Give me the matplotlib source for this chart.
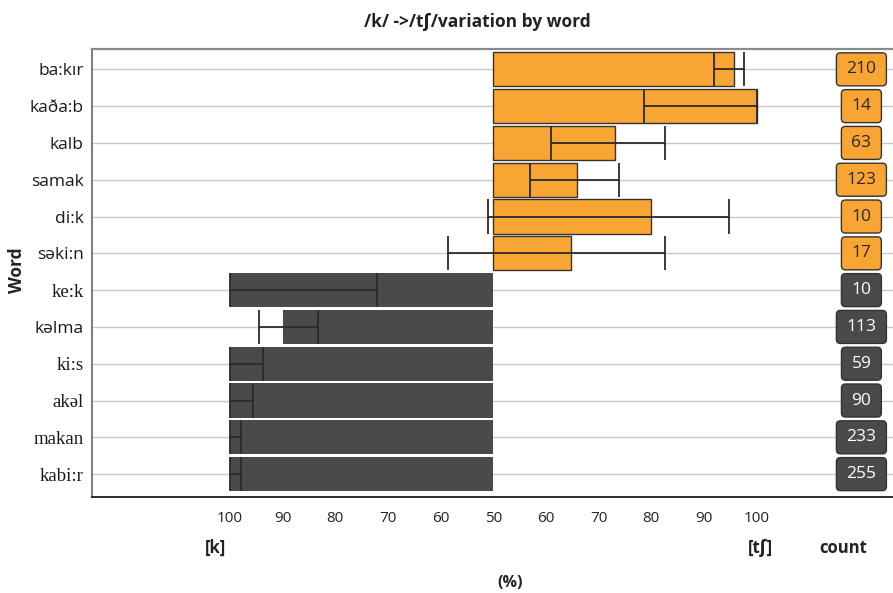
import matplotlib
matplotlib.use("Agg")
import matplotlib.pyplot as plt
from matplotlib.patches import FancyBboxPatch
from matplotlib.transforms import IdentityTransform

# Words, top to bottom
words = ["ba:kır", "kaða:b", "kalb", "samak", "di:k", "səki:n",
         "ke:k", "kəlma", "ki:s", "akəl", "makan", "kabi:r"]
# Font style used for each word label
word_serif = [False, False, False, False, False, False,
              True, False, True, True, True, True]
# Mean share of [tʃ] (%) and its interval
tsh_mean = [95.7, 100.0, 73.1, 65.9, 79.9, 64.7, 0.0, 10.1, 0.0, 0.0, 0.0, 0.0]
ci_low = [91.9, 78.6, 60.9, 57.0, 49.0, 41.4, 0.0, 5.6, 0.0, 0.0, 0.0, 0.0]
ci_high = [97.7, 100.0, 82.7, 73.8, 94.7, 82.7, 28.0, 16.7, 6.3, 4.3, 2.1, 2.1]
counts = [210, 14, 63, 123, 10, 17, 10, 113, 59, 90, 233, 255]

tick_values = [0, 10, 20, 30, 40, 50, 60, 70, 80, 90, 100]
tick_labels = ["100", "90", "80", "70", "60", "50", "60", "70", "80", "90", "100"]

ORANGE = "#F9A533"
DARK = "#4A4A4D"
INK = "#2A2A2A"
SANS = ["Open Sans", "DejaVu Sans"]
SERIF = ["Liberation Serif", "DejaVu Serif"]

plt.rcParams["font.family"] = SANS

fig = plt.figure(figsize=(8.93, 5.93), dpi=100)
ax = fig.add_axes([0.103, 0.162, 0.897, 0.7546])

ys = list(range(len(words)))
bar_h = 0.93
colors = [ORANGE if m > 50 else DARK for m in tsh_mean]

for y, m, c in zip(ys, tsh_mean, colors):
    if c == ORANGE:
        ax.barh(y, m - 50, left=50, height=bar_h, color=c,
                edgecolor="#333333", linewidth=1.0, zorder=2)
    else:
        ax.barh(y, m - 50, left=50, height=bar_h, color=c,
                edgecolor="none", zorder=2)

# interval line with full-height end marks
ax.hlines(ys, ci_low, ci_high, color=INK, linewidth=1.3, zorder=3)
ax.vlines(ci_low, [y - bar_h / 2 for y in ys], [y + bar_h / 2 for y in ys],
          color=INK, linewidth=1.3, zorder=3)
ax.vlines(ci_high, [y - bar_h / 2 for y in ys], [y + bar_h / 2 for y in ys],
          color=INK, linewidth=1.3, zorder=3)

ax.set_xlim(-26.2, 125.9)
ax.set_ylim(11.62, -0.54)

ax.set_yticks(ys)
ax.set_yticklabels(words)
for lab, serif in zip(ax.get_yticklabels(), word_serif):
    lab.set_family(SERIF if serif else SANS)
    lab.set_fontsize(13.5 if serif else 12.5)
    lab.set_color("#1a1a1a")
ax.yaxis.grid(True, color="#C8C8C8", linewidth=1.0)
ax.set_axisbelow(True)

ax.set_xticks(tick_values)
ax.set_xticklabels(tick_labels, fontsize=11, color="#222222")
ax.tick_params(axis="both", length=0)
ax.tick_params(axis="x", pad=10)
ax.tick_params(axis="y", pad=6)

ax.spines["right"].set_visible(False)
ax.spines["top"].set_color("#8A8A8A")
ax.spines["top"].set_linewidth(1.6)
ax.spines["left"].set_color("#808080")
ax.spines["left"].set_linewidth(1.5)
ax.spines["bottom"].set_color("#1E1E1E")
ax.spines["bottom"].set_linewidth(1.3)

# count badges
count_x = 119.9
fig.canvas.draw()
renderer = fig.canvas.get_renderer()
for y, n, c in zip(ys, counts, colors):
    txt_color = INK if c == ORANGE else "white"
    t = ax.text(count_x, y, str(n), ha="center", va="center", fontsize=12.5,
                color=txt_color, zorder=6)
    bb = t.get_window_extent(renderer)
    cx, cy = ax.transData.transform((count_x, y))
    w = bb.width + 20
    h = 33
    patch = FancyBboxPatch((cx - w / 2, cy - h / 2), w, h,
                           boxstyle="round,pad=0,rounding_size=4",
                           transform=IdentityTransform(),
                           facecolor=c, edgecolor="#333333", linewidth=1.0,
                           zorder=5, clip_on=False)
    ax.add_artist(patch)

H = 593.0
W = 893.0
fig.text(477 / W, 1 - 22 / H, "/k/ ->/tʃ/variation by word", ha="center",
         va="center", fontsize=12.5, fontweight="bold", color="#222222")
fig.text(17 / W, 1 - 270 / H, "Word", rotation=90, ha="center", va="center",
         fontsize=12.5, fontweight="bold", color="#222222")
fig.text(215 / W, 1 - 548 / H, "[k]", ha="center", va="center",
         fontsize=12, fontweight="bold", color="#222222")
fig.text(760 / W, 1 - 548 / H, "[tʃ]", ha="center", va="center",
         fontsize=12, fontweight="bold", color="#222222")
fig.text(843 / W, 1 - 548 / H, "count", ha="center", va="center",
         fontsize=12, fontweight="bold", color="#222222")
fig.text(510 / W, 1 - 583 / H, "(%)", ha="center", va="center",
         fontsize=11.5, fontweight="bold", color="#222222")

fig.savefig("out.png", dpi=100)
